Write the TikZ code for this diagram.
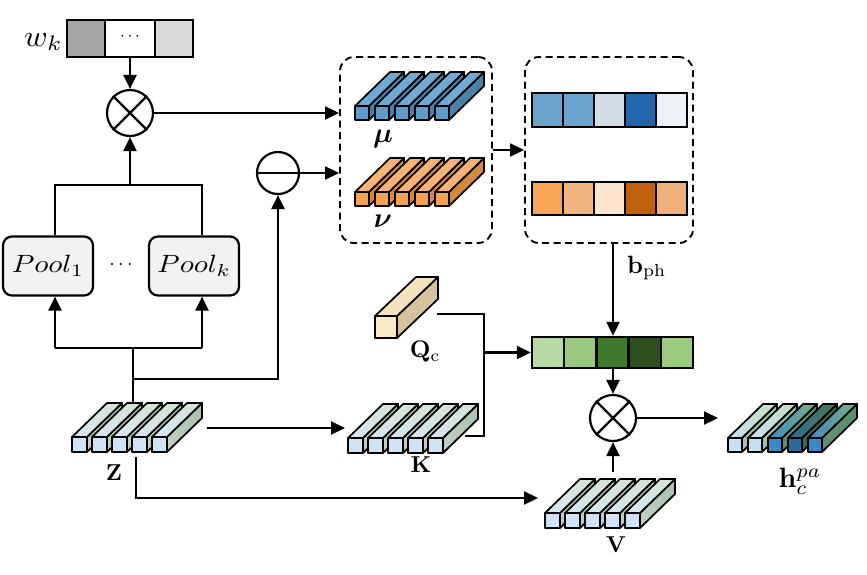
\documentclass[tikz,border=0pt]{standalone}
\usepackage{graphicx}
\usepackage{bm}
\usetikzlibrary{arrows.meta,calc}
\definecolor{wdark}{HTML}{A6A6A6}
\definecolor{wlight}{HTML}{D9D9D9}
\definecolor{poolgray}{HTML}{F2F2F2}
\definecolor{zfront}{HTML}{CFE3F5}
\definecolor{ztopl}{HTML}{D6E7F6}
\definecolor{ztopr}{HTML}{D3E4CF}
\definecolor{zside}{HTML}{A9C1AE}
\definecolor{mufront}{HTML}{5E9DCB}
\definecolor{mutop}{HTML}{70A9D4}
\definecolor{muside}{HTML}{4B80A9}
\definecolor{nufront}{HTML}{F6A252}
\definecolor{nutop}{HTML}{F8B273}
\definecolor{nuside}{HTML}{D48A3E}
\definecolor{qfront}{HTML}{FAE9C6}
\definecolor{qtop}{HTML}{F4E3BE}
\definecolor{qside}{HTML}{D5C39E}
\definecolor{bb1}{HTML}{6AA3CB}
\definecolor{bb3}{HTML}{D3DEE3}
\definecolor{bb4}{HTML}{2166AC}
\definecolor{bb5}{HTML}{EDF2F5}
\definecolor{ob1}{HTML}{F9A657}
\definecolor{ob2}{HTML}{F1B580}
\definecolor{ob3}{HTML}{FDE4CF}
\definecolor{ob4}{HTML}{C0600F}
\definecolor{ob5}{HTML}{F1B07A}
\definecolor{g1}{HTML}{B8DBA6}
\definecolor{g2}{HTML}{98C97E}
\definecolor{g3}{HTML}{3F7A2C}
\definecolor{g4}{HTML}{2F4E1E}
\definecolor{g5}{HTML}{9CCC80}
\definecolor{hl}{HTML}{C6DFF2}
\definecolor{hm}{HTML}{3A8AC8}
\definecolor{hd}{HTML}{2B6A9C}
\definecolor{hgl}{HTML}{C8DFC0}
\definecolor{hgm}{HTML}{7BB07E}
\definecolor{hgd}{HTML}{4C7A50}
\definecolor{hsl}{HTML}{A6C0AA}
\definecolor{hsm}{HTML}{5F8F70}
\definecolor{hsd}{HTML}{3F6450}
% #1 x, #2 y (front top-left), #3 size, #4 dx, #5 dy, #6 front style, #7 top style, #8 side style
\newcommand{\onebar}[8]{%
  \filldraw[barline,#8] ({#1+#3},{#2}) -- ++(#4,#5) -- ++(0,#3) -- ({#1+#3},{#2+#3}) -- cycle;
  \filldraw[barline,#7] ({#1},{#2}) -- ++(#4,#5) -- ++(#3,0) -- ({#1+#3},{#2}) -- cycle;
  \filldraw[barline,#6] ({#1},{#2}) rectangle ++(#3,#3);
}
\newcommand{\ztensor}[2]{%
  \foreach \i in {0,...,4}{\onebar{#1+20*\i}{#2}{15}{35}{-34}{fill=zfront}{left color=ztopl,right color=ztopr}{left color=zside!75!white,right color=zside}}%
}
\begin{document}
\begin{tikzpicture}[x=1pt,y=-1pt,line width=2.2pt,
  arr/.style={-{Triangle[length=14pt,width=13pt]}},
  barline/.style={line width=1.7pt,line join=round},
  op/.style={circle,draw,minimum size=46pt,inner sep=0pt,fill=white},
  poolbox/.style={draw,rounded corners=9pt,fill=poolgray,minimum width=90pt,minimum height=59pt,inner sep=0pt},
  lbl/.style={inner sep=0pt},
  dbox/.style={draw,line width=1.9pt,dash pattern=on 7pt off 4.5pt,rounded corners=14pt,inner sep=0pt},
  cellbar/.style={draw,line width=2.4pt,inner sep=0pt}]
\useasboundingbox (0,0) rectangle (867,574);

% w_k bar
\fill[wdark] (67,20) rectangle (105,57);
\fill[wlight] (155,20) rectangle (193,57);
\draw[line width=2.2pt] (105,20) -- (105,57) (155,20) -- (155,57);
\node[cellbar,minimum width=126pt,minimum height=37pt] (wbar) at (130,38.5) {};
\node (wdots) at (130,37) {\scalebox{1.7}{$\cdots$}};
\node[anchor=east,inner sep=0pt] (wlab) at (64,42) {\scalebox{3.2}[3.0]{$w_k$}};

% otimes 1
\node[op] (ot1) at (130,113) {};
\draw (ot1.north west) -- (ot1.south east) (ot1.north east) -- (ot1.south west);
\draw[arr] (wbar.south) -- (ot1.north);

% pools
\node[poolbox] (pool1) at (48,266) {\scalebox{2.9}[2.5]{$Pool_1$}};
\node[poolbox] (poolk) at (194,266) {\scalebox{2.9}[2.5]{$Pool_k$}};
\node (pdots) at (121,265) {\scalebox{2.0}{$\cdots$}};
\coordinate (p1) at ($(pool1.north)+(7,0)$);
\coordinate (pk) at ($(poolk.north)+(8,0)$);
\coordinate (p1b) at ($(pool1.south)+(7,0)$);
\coordinate (pkb) at ($(poolk.south)+(8,0)$);
\coordinate (jt) at (130,185);
\draw (p1) -- (p1 |- jt) -- (pk |- jt) -- (pk);
\draw[arr] (jt) -- (ot1.south);

% minus
\node[op,minimum size=42pt] (minus) at (278,173) {};
\draw (minus.west) -- (minus.east);

% dashed boxes
\node[dbox,minimum width=152pt,minimum height=186pt] (box1) at (416,150) {};
\node[dbox,minimum width=168pt,minimum height=186pt] (box2) at (609,150) {};
\draw[arr] (ot1.east) -- (ot1.east -| box1.west);
\draw[arr] (minus.east) -- (minus.east -| box1.west);
\draw[arr] (box1.east) -- (box2.west);

% mu and nu tensors
\foreach \i in {0,...,4}{\onebar{355+20*\i}{106}{14}{35}{-34}{fill=mufront}{fill=mutop}{fill=muside}}
\foreach \i in {0,...,4}{\onebar{355+20*\i}{192}{14}{35}{-34}{fill=nufront}{fill=nutop}{fill=nuside}}
\node[lbl] (mulab) at (383,139) {\scalebox{2.8}{$\bm{\mu}$}};
\node[lbl] (nulab) at (383,221) {\scalebox{2.8}{$\bm{\nu}$}};

% blue and orange bars
\foreach \c [count=\k from 0] in {bb1,bb1,bb3,bb4,bb5}{\fill[\c] (532+31*\k,93) rectangle ++(31,34);}
\foreach \k in {1,...,4}{\draw[line width=2.4pt] (532+31*\k,93) -- ++(0,34);}
\node[cellbar,minimum width=155pt,minimum height=34pt] (bbar) at (609.5,110) {};
\foreach \c [count=\k from 0] in {ob1,ob2,ob3,ob4,ob5}{\fill[\c] (532+31*\k,182) rectangle ++(31,33);}
\foreach \k in {1,...,4}{\draw[line width=2.4pt] (532+31*\k,182) -- ++(0,33);}
\node[cellbar,minimum width=155pt,minimum height=33pt] (obar) at (609.5,198.5) {};

% green bar
\foreach \c [count=\k from 0] in {g1,g2,g3,g4,g5}{\fill[\c] (532+32.2*\k,337) rectangle ++(32.2,31);}
\foreach \k in {1,...,4}{\draw[line width=2.4pt] (532+32.2*\k,337) -- ++(0,31);}
\node[cellbar,minimum width=161pt,minimum height=31pt] (gbar) at (612.5,352.5) {};
\coordinate (bx) at (613,0);
\draw[arr] (box2.south -| bx) -- (gbar.north -| bx);
\node[lbl,anchor=west] (blab) at (626,268) {\scalebox{2.5}{$\mathbf{b}_{\mathrm{ph}}$}};

% otimes 2
\node[op] (ot2) at (613,418) {};
\draw (ot2.north west) -- (ot2.south east) (ot2.north east) -- (ot2.south west);
\draw[arr] (gbar.south -| ot2) -- (ot2.north);

% Z, K, V tensors
\ztensor{72}{437}
\ztensor{348}{438}
\ztensor{545}{513}
\node[lbl] (zlab) at (114,473) {\scalebox{2.3}{$\mathbf{Z}$}};
\node[lbl] (klab) at (421,465) {\scalebox{2.3}{$\mathbf{K}$}};
\node[lbl] (vlab) at (616,545) {\scalebox{2.3}{$\mathbf{V}$}};
\coordinate (ztop) at (133,403);
\coordinate (zright) at (207,428);
\coordinate (zbot) at (136,457);
\coordinate (kleft) at (345,428);
\coordinate (kright) at (465,436);
\coordinate (vleft) at (538,498);
\coordinate (vtop) at (613,472);

% Q_c
\onebar{375}{316}{22}{41}{-39}{fill=qfront}{fill=qtop}{fill=qside}
\node[lbl] (qlab) at (425,352) {\scalebox{2.4}{$\mathbf{Q}_{\mathrm{c}}$}};
\coordinate (qright) at (437,314);

% h tensor
\foreach \i/\fc/\tr/\sc in {0/hl/hgl/hsl,1/hl/hgl/hsl,2/hm/hgm/hsm,3/hd/hgd/hsd,4/hm/hgm/hsm}{%
  \onebar{728+20*\i}{438}{14}{35}{-34}{fill=\fc}{left color=\fc,right color=\tr}{fill=\sc}}
\node[lbl] (hlab) at (800,481) {\scalebox{2.8}{$\mathbf{h}_c^{pa}$}};
\coordinate (hleft) at (718,418);

% lower tree
\coordinate (jb) at (133,348);
\coordinate (jm) at (133,379);
\draw[arr] (p1b |- jb) -- (p1b);
\draw[arr] (pkb |- jb) -- (pkb);
\draw (p1b |- jb) -- (pkb |- jb);
\draw (jb) -- (ztop);
\draw[arr] (jm) -- (jm -| minus) -- (minus.south);

% connectors
\draw[arr] (zright) -- (kleft);
\draw[arr] (zbot) |- (vleft);
\coordinate (qk) at (484,0);
\draw (qright) -- (qright -| qk) -- (kright -| qk) -- (kright);
\draw[arr] (qk |- gbar.west) -- (gbar.west);
\draw[arr] (vtop) -- (ot2.south);
\draw[arr] (ot2.east) -- (hleft);
\end{tikzpicture}
\end{document}
